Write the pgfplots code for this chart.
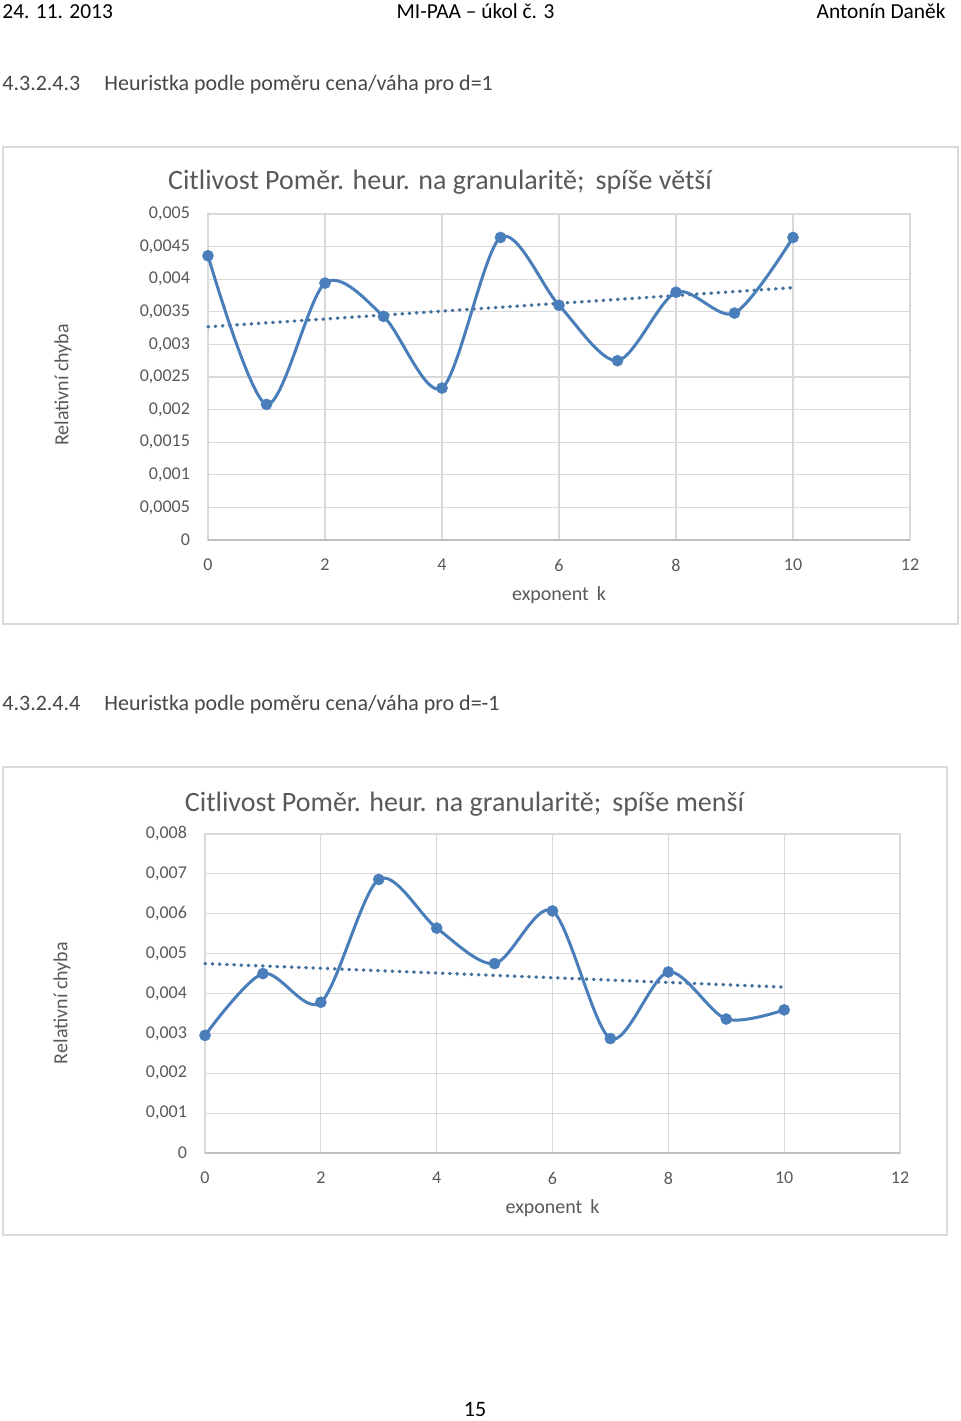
\documentclass[border=0pt]{standalone}
\usepackage{fontspec}
\setmainfont{Carlito}
\usepackage{pgfplots}
\pgfplotsset{compat=1.18}
\definecolor{lineblue}{HTML}{4A7EBB}
\definecolor{trendblue}{HTML}{41719C}
\definecolor{txtgray}{HTML}{595959}
\definecolor{gridgray}{HTML}{D9D9D9}
\definecolor{axgray}{HTML}{BFBFBF}
\definecolor{headgray}{HTML}{474747}

\pgfplotsset{
  excelax/.style={
    anchor=south west,
    scale only axis,
    xmin=0, xmax=12, ymin=0,
    xtick={0,2,4,6,8,10,12},
    xticklabels={0,2,4,6,8,10,12},
    scaled y ticks=false,
    grid=major,
    major grid style={draw=gridgray, line width=0.6pt},
    axis line style={draw=gridgray, line width=0.6pt},
    major tick length=0pt,
    tick style={draw=none},
    ticklabel style={font=\fontsize{9}{11}\selectfont, text=txtgray},
    yticklabel style={xshift=-5.5pt},
    xticklabel style={yshift=-6pt},
    label style={font=\fontsize{10}{12}\selectfont, text=txtgray},
    title style={font=\fontsize{14}{16}\selectfont, text=txtgray, anchor=base},
    clip=false,
  },
  dataline/.style={color=lineblue, line width=1.5pt, smooth, mark=*, mark size=2.8pt,
    mark options={fill=lineblue, draw=lineblue, line width=0.2pt}},
  trendline/.style={color=trendblue, line width=1.7pt, line cap=round, dash pattern=on 0.3pt off 3.3pt},
}

\begin{document}
\begin{tikzpicture}[x=0.5pt,y=0.5pt]
\fill[white] (0,0) rectangle (960,1421);
\path[use as bounding box] (0,0) rectangle (960,1421);

% page header
\node[anchor=base west, inner sep=0, font=\fontsize{10.7}{13}\selectfont] at (2,1402) {24. 11. 2013};
\node[anchor=base, inner sep=0, font=\fontsize{10.7}{13}\selectfont] at (475.5,1402) {MI-PAA – úkol č. 3};
\node[anchor=base east, inner sep=0, font=\fontsize{10.7}{13}\selectfont] at (946,1402) {Antonín Daněk};

% section headings
\node[anchor=base west, inner sep=0, text=headgray, font=\fontsize{11}{13}\selectfont] at (2,1330) {4.3.2.4.3};
\node[anchor=base west, inner sep=0, text=headgray, font=\fontsize{11}{13}\selectfont] at (104,1330) {Heuristka podle poměru cena/váha pro d=1};
\node[anchor=base west, inner sep=0, text=headgray, font=\fontsize{11}{13}\selectfont] at (2,710) {4.3.2.4.4};
\node[anchor=base west, inner sep=0, text=headgray, font=\fontsize{11}{13}\selectfont] at (104,710) {Heuristka podle poměru cena/váha pro d=-1};

% chart frames
\draw[gridgray, line width=0.6pt] (3,797) rectangle (958,1274);
\draw[gridgray, line width=0.6pt] (3,186) rectangle (947,654);

% chart 1
\begin{axis}[excelax,
  at={(104pt,440.5pt)}, width=351pt, height=163pt,
  ymax=0.005,
  ytick={0,0.0005,0.001,0.0015,0.002,0.0025,0.003,0.0035,0.004,0.0045,0.005},
  yticklabels={0,{0,0005},{0,001},{0,0015},{0,002},{0,0025},{0,003},{0,0035},{0,004},{0,0045},{0,005}},
  title={Citlivost Poměr. heur. na granularitě;\, spíše větší},
  title style={at={(axis description cs:0.3305,1.037)}},
  xlabel={exponent\, k},
  xlabel style={at={(axis description cs:0.5,-0.1687)}, anchor=center},
  ylabel={Relativní chyba},
  ylabel style={at={(axis description cs:-0.2066,0.4755)}, anchor=center, rotate=0},
]
\draw[axgray, line width=0.6pt] (rel axis cs:0,0) -- (rel axis cs:1,0);
\addplot[trendline] coordinates {(0,0.00327) (10,0.00387)};
\addplot[dataline] coordinates {
(0,0.00436) (1,0.00208) (2,0.00394) (3,0.00343) (4,0.00233) (5,0.00464)
(6,0.00360) (7,0.00275) (8,0.00380) (9,0.00348) (10,0.00464)};
\end{axis}

% chart 2
\begin{axis}[excelax,
  at={(102.5pt,134pt)}, width=347.5pt, height=159.5pt,
  ymax=0.008,
  ytick={0,0.001,0.002,0.003,0.004,0.005,0.006,0.007,0.008},
  yticklabels={0,{0,001},{0,002},{0,003},{0,004},{0,005},{0,006},{0,007},{0,008}},
  title={Citlivost Poměr. heur. na granularitě;\, spíše menší},
  title style={at={(axis description cs:0.3734,1.034)}},
  xlabel={exponent\, k},
  xlabel style={at={(axis description cs:0.5,-0.1724)}, anchor=center},
  ylabel={Relativní chyba},
  ylabel style={at={(axis description cs:-0.2058,0.470)}, anchor=center, rotate=0},
]
\draw[axgray, line width=0.6pt] (rel axis cs:0,0) -- (rel axis cs:1,0);
\addplot[trendline] coordinates {(0,0.00475) (10,0.00416)};
\addplot[dataline] coordinates {
(0,0.00295) (1,0.00450) (2,0.00378) (3,0.00686) (4,0.00564) (5,0.00475)
(6,0.00607) (7,0.00287) (8,0.00454) (9,0.00336) (10,0.00359)};
\end{axis}

% page number
\node[anchor=base, inner sep=0, font=\fontsize{11}{13}\selectfont] at (475,4) {15};
\end{tikzpicture}
\end{document}
